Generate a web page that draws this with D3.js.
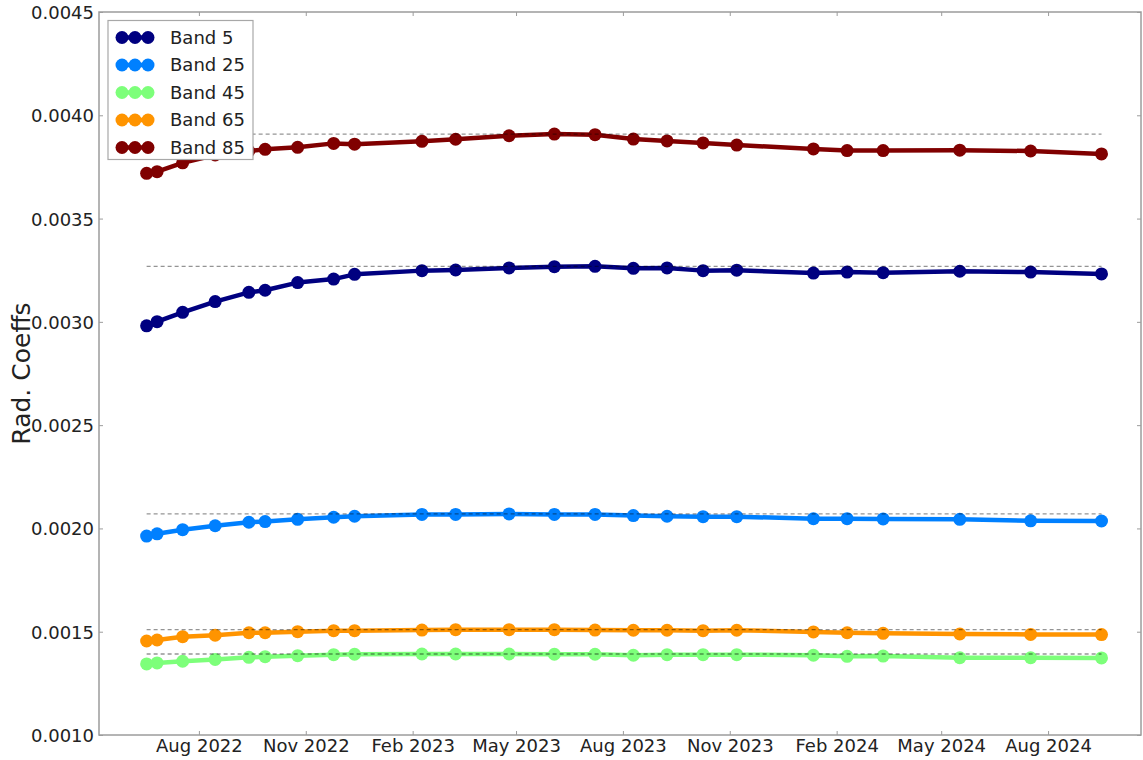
<!DOCTYPE html>
<html>
<head>
<meta charset="utf-8">
<script src="https://cdn.jsdelivr.net/npm/d3@7"></script>
<style>
  html, body { margin: 0; padding: 0; background: #fff; }
  svg { display: block; font-family: "DejaVu Sans", sans-serif; }
</style>
</head>
<body>
<svg id="chart" width="1143" height="760"></svg>
<script>
// Acquisition dates of each calibration run
const dates = [
  "2022-06-17", "2022-06-26", "2022-07-18", "2022-08-15", "2022-09-13", "2022-09-27",
  "2022-10-25", "2022-11-25", "2022-12-13", "2023-02-09", "2023-03-10", "2023-04-25",
  "2023-06-03", "2023-07-08", "2023-08-10", "2023-09-08", "2023-10-09", "2023-11-07",
  "2024-01-12", "2024-02-10", "2024-03-12", "2024-05-17", "2024-07-17", "2024-09-16"
];

// Radiometric coefficients per band
const band5 = [
  0.002981, 0.003001, 0.003046, 0.003098, 0.003143, 0.003153,
  0.003190, 0.003207, 0.003230, 0.003248, 0.003251, 0.003261,
  0.003267, 0.003269, 0.003259, 0.003261, 0.003248, 0.003250,
  0.003236, 0.003241, 0.003238, 0.003245, 0.003241, 0.003232
];
const band25 = [
  0.001963, 0.001974, 0.001994, 0.002013, 0.002030, 0.002033,
  0.002044, 0.002054, 0.002059, 0.002068, 0.002068, 0.002070,
  0.002068, 0.002068, 0.002062, 0.002059, 0.002057, 0.002057,
  0.002047, 0.002047, 0.002046, 0.002044, 0.002037, 0.002036
];
const band45 = [
  0.001344, 0.001349, 0.001357, 0.001366, 0.001376, 0.001379,
  0.001384, 0.001389, 0.001391, 0.001392, 0.001392, 0.001392,
  0.001391, 0.001391, 0.001386, 0.001389, 0.001389, 0.001389,
  0.001386, 0.001381, 0.001382, 0.001374, 0.001374, 0.001373
];
const band65 = [
  0.001455, 0.001460, 0.001476, 0.001483, 0.001495, 0.001495,
  0.001500, 0.001505, 0.001505, 0.001508, 0.001510, 0.001510,
  0.001510, 0.001508, 0.001507, 0.001507, 0.001505, 0.001507,
  0.001499, 0.001495, 0.001492, 0.001489, 0.001487, 0.001486
];
const band85 = [
  0.003719, 0.003727, 0.003770, 0.003808, 0.003827, 0.003835,
  0.003845, 0.003864, 0.003860, 0.003874, 0.003884, 0.003901,
  0.003909, 0.003906, 0.003885, 0.003876, 0.003866, 0.003856,
  0.003837, 0.003829, 0.003829, 0.003831, 0.003827, 0.003813
];

const seriesNames = ["Band 5", "Band 25", "Band 45", "Band 65", "Band 85"];
const seriesColors = ["#000080", "#0080ff", "#7dff7a", "#ff9400", "#800000"];

const yTicks = [0.0010, 0.0015, 0.0020, 0.0025, 0.0030, 0.0035, 0.0040, 0.0045];
const xTicks = ["2022-08-01", "2022-11-01", "2023-02-01", "2023-05-01", "2023-08-01",
                "2023-11-01", "2024-02-01", "2024-05-01", "2024-08-01"];
const xDomain = ["2022-05-07", "2024-10-20"];

const parse = d3.utcParse("%Y-%m-%d");
const when = dates.map(parse);
const allValues = [band5, band25, band45, band65, band85];
const series = seriesNames.map((name, i) => ({
  name, color: seriesColors[i],
  points: when.map((d, j) => ({ date: d, value: allValues[i][j] }))
}));

const svg = d3.select("#chart");
const plot = { left: 99, top: 12, right: 1141, bottom: 735 };

const x = d3.scaleUtc().domain(xDomain.map(parse)).range([plot.left, plot.right]);
const y = d3.scaleLinear().domain([0.0010, 0.0045]).range([plot.bottom, plot.top]);

const frameColor = "#9c9c9c";
const textColor = "#222";
const markerR = 6.5;

// Series lines and markers
const line = d3.line().x(d => x(d.date)).y(d => y(d.value));
const gSeries = svg.append("g");
series.forEach(s => {
  gSeries.append("path")
    .attr("d", line(s.points))
    .attr("fill", "none")
    .attr("stroke", s.color)
    .attr("stroke-width", 4.5)
    .attr("stroke-linejoin", "round");
  gSeries.selectAll(null).data(s.points).enter().append("circle")
    .attr("cx", d => x(d.date))
    .attr("cy", d => y(d.value))
    .attr("r", markerR)
    .attr("fill", s.color);
});

// Dashed reference level at each band's maximum
const [d0, d1] = d3.extent(when);
series.forEach(s => {
  const m = d3.max(s.points, d => d.value);
  svg.append("line")
    .attr("x1", x(d0)).attr("x2", x(d1))
    .attr("y1", y(m)).attr("y2", y(m))
    .attr("stroke", "#000")
    .attr("stroke-opacity", 0.42)
    .attr("stroke-width", 1.3)
    .attr("stroke-dasharray", "4,3");
});

// Axes: frame with inward ticks on all four sides
const axisFont = 18;
const gLeft = svg.append("g").attr("transform", `translate(${plot.left},0)`)
  .call(d3.axisLeft(y).tickValues(yTicks).tickSize(-4).tickPadding(5).tickFormat(d3.format(".4f")));
const gRight = svg.append("g").attr("transform", `translate(${plot.right},0)`)
  .call(d3.axisRight(y).tickValues(yTicks).tickSize(-4).tickFormat(""));
const xTickDates = xTicks.map(parse);
const gBottom = svg.append("g").attr("transform", `translate(0,${plot.bottom})`)
  .call(d3.axisBottom(x).tickValues(xTickDates).tickSize(-4).tickPadding(4).tickFormat(d3.utcFormat("%b %Y")));
const gTop = svg.append("g").attr("transform", `translate(0,${plot.top})`)
  .call(d3.axisTop(x).tickValues(xTickDates).tickSize(-4).tickFormat(""));

[gLeft, gRight, gBottom, gTop].forEach(g => {
  g.select(".domain").remove();
  g.selectAll(".tick line").attr("stroke", frameColor).attr("stroke-width", 1);
  g.selectAll("text").attr("fill", textColor).attr("font-size", axisFont)
    .attr("font-family", "DejaVu Sans, sans-serif");
});
gLeft.selectAll("text").attr("dy", "0.36em");
gBottom.selectAll("text").attr("y", 0).attr("dy", "0").attr("transform", "translate(0,17)");

svg.append("rect")
  .attr("x", plot.left).attr("y", plot.top)
  .attr("width", plot.right - plot.left).attr("height", plot.bottom - plot.top)
  .attr("fill", "none").attr("stroke", frameColor).attr("stroke-width", 1.5);

// Y-axis title
svg.append("text")
  .attr("transform", `translate(30,${(plot.top + plot.bottom) / 2}) rotate(-90)`)
  .attr("text-anchor", "middle")
  .attr("font-size", 25)
  .attr("fill", textColor)
  .text("Rad. Coeffs");

// Legend
const lg = svg.append("g").attr("transform", "translate(108,20.5)");
lg.append("rect")
  .attr("width", 145).attr("height", 139)
  .attr("fill", "#fff").attr("stroke", "#a8a8a8").attr("stroke-width", 1.2);
series.forEach((s, i) => {
  const row = lg.append("g").attr("transform", `translate(0,${17 + i * 27.5})`);
  row.append("line").attr("x1", 14).attr("x2", 40)
    .attr("stroke", s.color).attr("stroke-width", 4.5);
  [14, 27, 40].forEach(cx => row.append("circle")
    .attr("cx", cx).attr("cy", 0).attr("r", markerR).attr("fill", s.color));
  row.append("text")
    .attr("x", 62).attr("y", 0).attr("dy", "0.36em")
    .attr("font-size", 18).attr("fill", textColor)
    .text(s.name);
});
</script>
</body>
</html>
